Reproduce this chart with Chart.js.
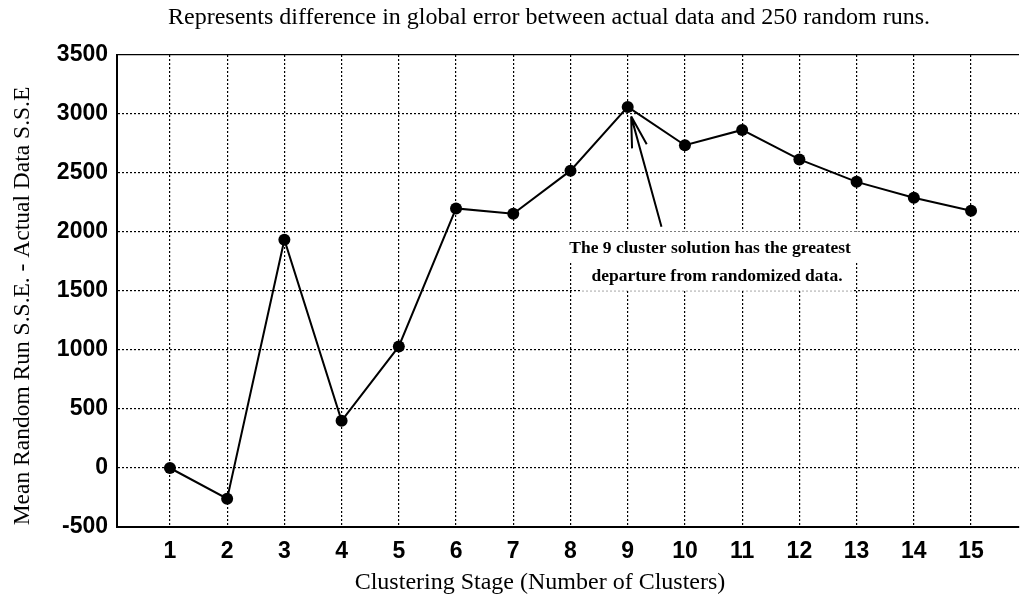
<!DOCTYPE html>
<html>
<head>
<meta charset="utf-8">
<script src="https://cdn.jsdelivr.net/npm/chart.js@4.4.1/dist/chart.umd.min.js"></script>
<style>
  html, body { margin: 0; padding: 0; background: #fff; }
  #wrap { width: 1025px; height: 608px; }
</style>
</head>
<body>
<div id="wrap"><canvas id="chart"></canvas></div>
<script>
// data
const stages = [1, 2, 3, 4, 5, 6, 7, 8, 9, 10, 11, 12, 13, 14, 15];
const sseDiff = [0, -260, 1935, 400, 1030, 2200, 2155, 2520, 3060, 2735, 2865, 2615, 2425, 2290, 2180];
const yTicks = [-500, 0, 500, 1000, 1500, 2000, 2500, 3000, 3500];

const titleText = 'Represents difference in global error between actual data and 250 random runs.';
const xTitle = 'Clustering Stage (Number of Clusters)';
const yTitle = 'Mean Random Run S.S.E. - Actual Data S.S.E';
const noteLines = ['The 9 cluster solution has the greatest', 'departure from randomized data.'];

// annotation placement in data units
const noteAt = [[10.44, 1860], [10.56, 1620]];
const arrowHead = [9.06, 2980];
const arrowTail = [9.59, 2045];

const serif = '"Liberation Serif", "Times New Roman", serif';
const sans = '"Liberation Sans", Arial, sans-serif';

const textPlugin = {
  id: 'textPlugin',
  afterDatasetsDraw(chart) {
    const {ctx, scales: {x, y}} = chart;
    ctx.save();

    // arrow pointing at the 9 cluster point
    const hx = x.getPixelForValue(arrowHead[0]), hy = y.getPixelForValue(arrowHead[1]);
    const tx = x.getPixelForValue(arrowTail[0]), ty = y.getPixelForValue(arrowTail[1]);
    const ang = Math.atan2(ty - hy, tx - hx);
    ctx.strokeStyle = '#000';
    ctx.lineWidth = 2;
    ctx.beginPath();
    ctx.moveTo(tx, ty);
    ctx.lineTo(hx, hy);
    [-0.24, 0.24].forEach(d => {
      ctx.moveTo(hx, hy);
      ctx.lineTo(hx + 32 * Math.cos(ang + d), hy + 32 * Math.sin(ang + d));
    });
    ctx.stroke();

    // note text on white boxes
    ctx.font = 'bold 17.5px ' + serif;
    ctx.textAlign = 'center';
    ctx.textBaseline = 'middle';
    noteLines.forEach((line, i) => {
      const px = x.getPixelForValue(noteAt[i][0]);
      const py = y.getPixelForValue(noteAt[i][1]);
      const w = ctx.measureText(line).width;
      ctx.fillStyle = '#fff';
      ctx.fillRect(px - w / 2 - 10, py - 17, w + 20, 31);
      ctx.fillStyle = '#000';
      ctx.fillText(line, px, py);
    });
    ctx.restore();
  },
  afterDraw(chart) {
    const {ctx} = chart;
    ctx.save();
    ctx.fillStyle = '#000';
    ctx.textAlign = 'center';
    ctx.textBaseline = 'middle';
    ctx.font = '24px ' + serif;
    ctx.fillText(titleText, 549, 18);
    ctx.font = '24px ' + serif;
    ctx.fillText(xTitle, 540, 583);
    ctx.font = '23.5px ' + serif;
    ctx.translate(23, 306);
    ctx.rotate(-Math.PI / 2);
    ctx.fillText(yTitle, 0, 0);
    ctx.restore();
  }
};

new Chart(document.getElementById('chart'), {
  type: 'line',
  data: {
    datasets: [{
      data: stages.map((s, i) => ({x: s, y: sseDiff[i]})),
      borderColor: '#000',
      borderWidth: 2,
      pointRadius: 6,
      pointBackgroundColor: '#000',
      pointBorderWidth: 0,
      tension: 0
    }]
  },
  options: {
    responsive: true,
    maintainAspectRatio: false,
    animation: false,
    layout: { padding: { top: 55, left: 0, right: 0, bottom: 0 } },
    plugins: {
      legend: { display: false },
      title: { display: false },
      tooltip: { enabled: false }
    },
    scales: {
      x: {
        type: 'linear',
        min: 0.075,
        max: 15.838,
        afterBuildTicks: s => { s.ticks = stages.map(v => ({value: v})); },
        afterFit: s => { s.height = 81; },
        ticks: {
          color: '#000',
          font: { family: sans, size: 23, weight: 'bold' },
          padding: 11,
          maxRotation: 0,
          callback: v => String(v)
        },
        grid: { color: '#000', lineWidth: 1.2, drawTicks: false },
        border: { display: true, color: '#000', width: 2, dash: [2, 2] }
      },
      y: {
        min: -500,
        max: 3500,
        afterBuildTicks: s => { s.ticks = yTicks.map(v => ({value: v})); },
        afterFit: s => { s.width = 117; },
        ticks: {
          color: '#000',
          font: { family: sans, size: 23, weight: 'bold' },
          padding: 9,
          callback: v => String(v)
        },
        grid: { color: '#000', lineWidth: 1.2, drawTicks: false },
        border: {
          display: true, color: '#000', width: 2,
          dash: c => (c.tick && c.tick.value === 3500 ? [] : [2, 2])
        }
      }
    }
  },
  plugins: [textPlugin]
});
</script>
</body>
</html>
